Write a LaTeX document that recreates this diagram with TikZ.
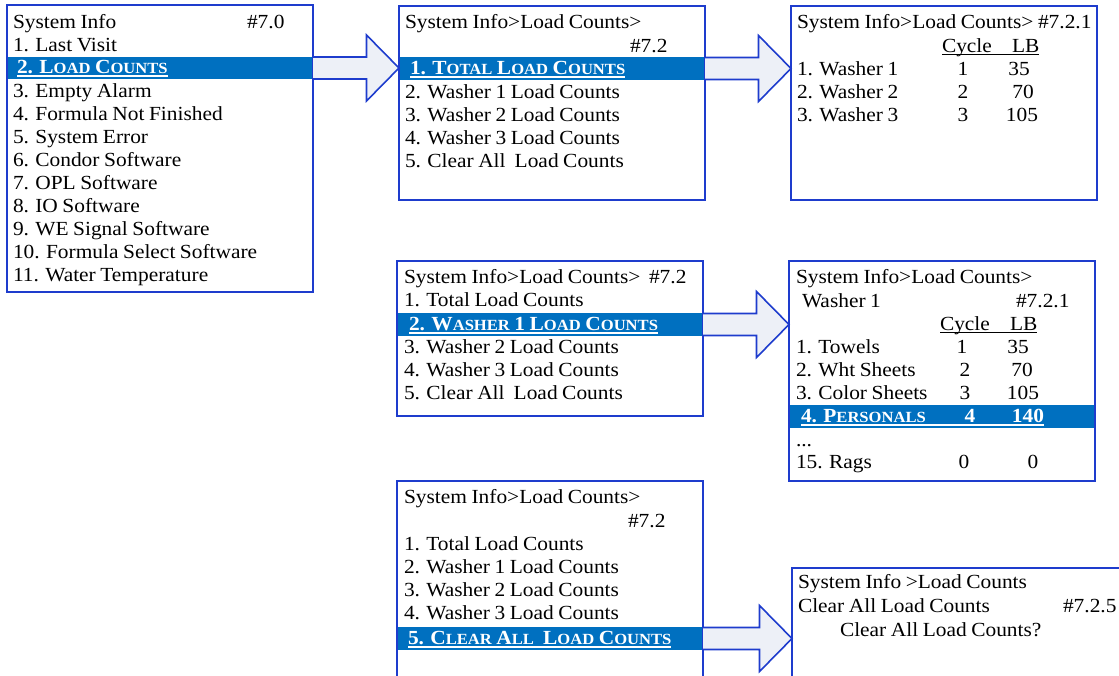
\documentclass[tikz,border=0pt]{standalone}
\usepackage{fontspec}
\setmainfont{Liberation Serif}[FakeStretch=1.07,WordSpace=0.85]
\usetikzlibrary{calc}
\definecolor{boxblue}{RGB}{30,60,205}
\definecolor{hlblue}{RGB}{0,112,192}
\definecolor{arrfill}{RGB}{237,240,247}
\newcommand\smc[1]{{\fontsize{15.5}{16}\selectfont #1}}
\newcommand\blockarrow[2]{%
  \fill[arrfill] let \p1=(#1.east), \p2=(#2.west) in
    (\x1,\y1+11pt) -- (\x2-32.5pt,\y1+11pt) -- (\x2-32.5pt,\y1+33pt) -- (\x2,\y1)
    -- (\x2-32.5pt,\y1-33pt) -- (\x2-32.5pt,\y1-11pt) -- (\x1,\y1-11pt) -- cycle;
  \draw[arrline] let \p1=(#1.east), \p2=(#2.west) in
    (\x1,\y1+11pt) -- (\x2-32.5pt,\y1+11pt) -- (\x2-32.5pt,\y1+33pt) -- (\x2,\y1)
    -- (\x2-32.5pt,\y1-33pt) -- (\x2-32.5pt,\y1-11pt) -- (\x1,\y1-11pt);
}
\begin{document}
\begin{tikzpicture}[x=1pt,y=-1pt,
  boxst/.style={draw=boxblue, line width=2.8pt, anchor=north west, inner sep=0, outer sep=0},
  barst/.style={fill=hlblue, anchor=north west, inner sep=0, outer sep=0},
  txt/.style={anchor=base west, inner sep=0, outer sep=0, font=\fontsize{20}{24}\selectfont},
  num/.style={txt, anchor=base},
  hl/.style={txt, text=white, font=\fontsize{20}{24}\selectfont\bfseries},
  hlnum/.style={hl, anchor=base},
  uline/.style={line width=1.1pt},
  arrline/.style={draw=boxblue, line width=1.6pt, line join=miter},
]
\useasboundingbox (0,0) rectangle (1119,675);

% highlight bars
\node[barst, minimum width=306pt, minimum height=22pt] (bar1) at (7,57) {};
\node[barst, minimum width=306pt, minimum height=23pt] (bar2) at (399,57) {};
\node[barst, minimum width=306pt, minimum height=23pt] (bar4) at (397,313) {};
\node[barst, minimum width=306pt, minimum height=23pt] (bar5) at (789,405) {};
\node[barst, minimum width=306pt, minimum height=23pt] (bar6) at (397,627) {};

% boxes
\node[boxst, minimum width=306pt, minimum height=287pt] (b1) at (7,5) {};
\node[boxst, minimum width=306pt, minimum height=194pt] (b2) at (399,6) {};
\node[boxst, minimum width=306pt, minimum height=194pt] (b3) at (791,6) {};
\node[boxst, minimum width=306pt, minimum height=155pt] (b4) at (397,261) {};
\node[boxst, minimum width=306pt, minimum height=220pt] (b5) at (789,261) {};
\node[boxst, minimum width=306pt, minimum height=210pt] (b6) at (397,481) {};
\node[boxst, minimum width=340pt, minimum height=120pt] (b7) at (792,568) {};

% block arrows
\blockarrow{bar1}{b2}
\blockarrow{bar2}{b3}
\blockarrow{bar4}{b5}
\blockarrow{bar6}{b7}

% box 1
\node[txt] (a0) at (13,28) {System Info};
\node[txt] (a0n) at (247,28) {\#7.0};
\node[txt] (a1) at (13,51) {1. Last Visit};
\node[hl] (a2) at (17,73) {2. L\smc{OAD} C\smc{OUNTS}};
\draw[white, uline] ([yshift=-3pt]a2.base west) -- ([yshift=-3pt]a2.base east);
\node[txt] (a3) at (13,97) {3. Empty Alarm};
\node[txt] (a4) at (13,120) {4. Formula Not Finished};
\node[txt] (a5) at (13,143) {5. System Error};
\node[txt] (a6) at (13,166) {6. Condor Software};
\node[txt] (a7) at (13,189) {7. OPL Software};
\node[txt] (a8) at (13,212) {8. IO Software};
\node[txt] (a9) at (13,235) {9. WE Signal Software};
\node[txt] (a10) at (13,258) {10. Formula Select Software};
\node[txt] (a11) at (13,281) {11. Water Temperature};

% box 2
\node[txt] (c0) at (405,28.5) {System Info>Load Counts>};
\node[txt] (c0n) at (630,52) {\#7.2};
\node[hl] (c1) at (410,74) {1. T\smc{OTAL} L\smc{OAD} C\smc{OUNTS}};
\draw[white, uline] ([yshift=-3pt]c1.base west) -- ([yshift=-3pt]c1.base east);
\node[txt] (c2) at (405,98) {2. Washer 1 Load Counts};
\node[txt] (c3) at (405,121) {3. Washer 2 Load Counts};
\node[txt] (c4) at (405,144) {4. Washer 3 Load Counts};
\node[txt] (c5) at (405,167) {5. Clear All\ \ Load Counts};

% box 3
\node[txt] (d0) at (797,28) {System Info>Load Counts>};
\node[txt] (d0n) at (1038,28) {\#7.2.1};
\node[txt] (dcy) at (942,52) {Cycle};
\node[txt] (dlb) at (1012,52) {LB};
\draw[uline] ([yshift=-2.5pt]dcy.base west) -- ([yshift=-2.5pt]dlb.base east);
\node[txt] (d1) at (797,75) {1. Washer 1};
\node[num] (d1c) at (963,75) {1};
\node[num] (d1l) at (1019,75) {35};
\node[txt] (d2) at (797,98) {2. Washer 2};
\node[num] (d2c) at (963,98) {2};
\node[num] (d2l) at (1023,98) {70};
\node[txt] (d3) at (797,121) {3. Washer 3};
\node[num] (d3c) at (963,121) {3};
\node[num] (d3l) at (1022,121) {105};

% box 4
\node[txt] (e0) at (404,283) {System Info>Load Counts>};
\node[txt] (e0n) at (649,283) {\#7.2};
\node[txt] (e1) at (404,306) {1. Total Load Counts};
\node[hl] (e2) at (409,330) {2. W\smc{ASHER} 1 L\smc{OAD} C\smc{OUNTS}};
\draw[white, uline] ([yshift=-3pt]e2.base west) -- ([yshift=-3pt]e2.base east);
\node[txt] (e3) at (404,353) {3. Washer 2 Load Counts};
\node[txt] (e4) at (404,376) {4. Washer 3 Load Counts};
\node[txt] (e5) at (404,399) {5. Clear All\ \ Load Counts};

% box 5
\node[txt] (f0) at (796,283) {System Info>Load Counts>};
\node[txt] (f0w) at (802,307) {Washer 1};
\node[txt] (f0n) at (1016,307) {\#7.2.1};
\node[txt] (fcy) at (940,330) {Cycle};
\node[txt] (flb) at (1010,330) {LB};
\draw[uline] ([yshift=-2.5pt]fcy.base west) -- ([yshift=-2.5pt]flb.base east);
\node[txt] (f1) at (796,353) {1. Towels};
\node[num] (f1c) at (962,353) {1};
\node[num] (f1l) at (1018,353) {35};
\node[txt] (f2) at (796,376) {2. Wht Sheets};
\node[num] (f2c) at (965,376) {2};
\node[num] (f2l) at (1022,376) {70};
\node[txt] (f3) at (796,399) {3. Color Sheets};
\node[num] (f3c) at (965,399) {3};
\node[num] (f3l) at (1023,399) {105};
\node[hl] (f4) at (801,422) {4. P\smc{ERSONALS}};
\node[hlnum] (f4c) at (970,422) {4};
\node[hlnum] (f4l) at (1028,422) {140};
\draw[white, uline] ([yshift=-3pt]f4.base west) -- ([yshift=-3pt]f4l.base east);
\node[txt] (fdots) at (796,446) {...};
\node[txt] (f15) at (796,468) {15. Rags};
\node[num] (f15c) at (964,468) {0};
\node[num] (f15l) at (1033,468) {0};

% box 6
\node[txt] (g0) at (404,503) {System Info>Load Counts>};
\node[txt] (g0n) at (628,527) {\#7.2};
\node[txt] (g1) at (404,550) {1. Total Load Counts};
\node[txt] (g2) at (404,573) {2. Washer 1 Load Counts};
\node[txt] (g3) at (404,596) {3. Washer 2 Load Counts};
\node[txt] (g4) at (404,619) {4. Washer 3 Load Counts};
\node[hl] (g5) at (408,644) {5. C\smc{LEAR} A\smc{LL}\ \ L\smc{OAD} C\smc{OUNTS}};
\draw[white, uline] ([yshift=-3pt]g5.base west) -- ([yshift=-3pt]g5.base east);

% box 7
\node[txt] (h0) at (798,588) {System Info >Load Counts};
\node[txt] (h1) at (798,612) {Clear All Load Counts};
\node[txt] (h1n) at (1063,612) {\#7.2.5};
\node[txt] (h2) at (840,636) {Clear All Load Counts?};
\end{tikzpicture}
\end{document}
